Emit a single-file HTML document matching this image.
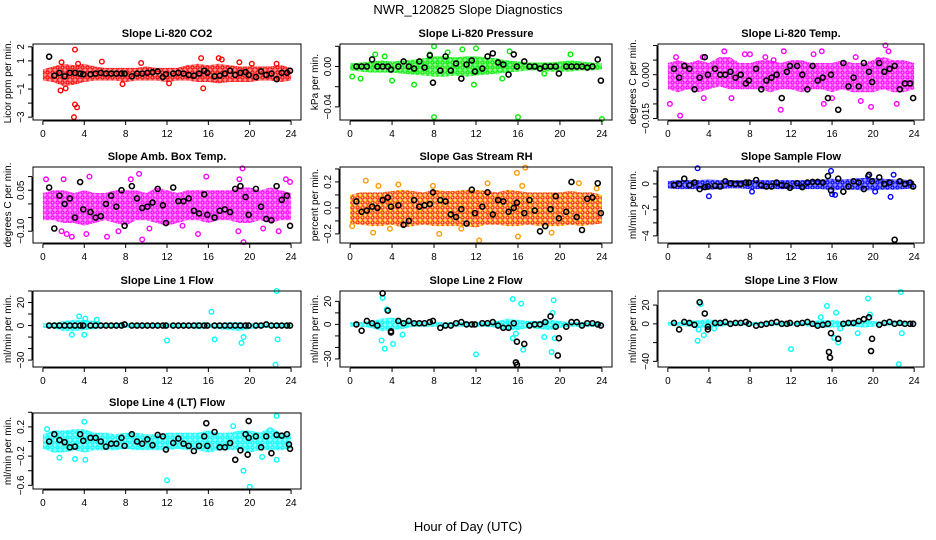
<!DOCTYPE html>
<html><head><meta charset="utf-8"><style>
html,body{margin:0;padding:0;background:#fff;}
svg{display:block;font-family:"Liberation Sans",sans-serif;}
</style></head><body>
<svg id="chart" width="936" height="540" viewBox="0 0 936 540">
<defs id="defs"></defs>
<text x="468" y="14" text-anchor="middle" font-size="13">NWR_120825  Slope Diagnostics</text>
<text x="468" y="531" text-anchor="middle" font-size="13">Hour of Day (UTC)</text>
</svg>
<script>
const blackHours=[0.6,1.1,1.6,2.1,2.6,3.1,3.6,3.9,4.6,5.1,5.6,6.1,6.6,7.1,7.6,7.9,8.6,9.1,9.6,10.1,10.6,11.1,11.6,11.9,12.6,13.1,13.6,14.1,14.6,15.1,15.6,15.9,16.6,17.1,17.6,18.1,18.6,19.1,19.6,19.9,20.6,21.1,21.6,22.1,22.6,23.1,23.6,23.9];
const xTicks=[0,4,8,12,16,20,24];
const titles=["Slope Li-820 CO2","Slope Li-820 Pressure","Slope Li-820 Temp.","Slope Amb. Box Temp.","Slope Gas Stream RH","Slope Sample Flow","Slope Line 1 Flow","Slope Line 2 Flow","Slope Line 3 Flow","Slope Line 4 (LT) Flow"];
const yLabels=["Licor ppm per min.","kPa per min.","degrees C per min.","degrees C per min.","percent per min.","ml/min per min.","ml/min per min.","ml/min per min.","ml/min per min.","ml/min per min."];
const colors=["#ff0000","#00ee00","#ff00ff","#ff00ff","#ff9900","#0000ff","#00ffff","#00ffff","#00ffff","#00ffff"];
const yDomains=[[-3.2,2.2],[-0.053,0.0223],[-0.0155,0.0105],[-0.143,0.135],[-0.27,0.315],[-4.55,1.3],[-36,30],[-37,29],[-46,35],[-0.65,0.39]];
const yTicks=[[-3,-2,-1,0,1,2],[0.02,0,-0.02,-0.04],[0.01,0.005,0,-0.005,-0.01,-0.015],[0.1,0.05,0,-0.05,-0.1],[0.3,0.2,0.1,0,-0.1,-0.2],[1,0,-1,-2,-3,-4],[30,20,10,0,-10,-20,-30],[20,10,0,-10,-20,-30],[20,0,-20,-40],[0.4,0.2,0,-0.2,-0.4,-0.6]];
const yTickLabelVals=[[-3,-1,1,2],[0,-0.04],[0,-0.015],[0.05,-0.1],[0.2,0,-0.2],[0,-2,-4],[20,0,-30],[20,0,-30],[20,0,-40],[0.2,-0.2,-0.6]];
const yTickLabelText=[["−3","−1","1","2"],["0.00","−0.04"],["0.000","−0.015"],["0.05","−0.10"],["0.2","0.0","−0.2"],["0","−2","−4"],["20","0","−30"],["20","0","−30"],["20","0","−40"],["0.2","−0.2","−0.6"]];
const bandHi=[
[0.4,0.6,0.8,0.7,0.8,0.6,0.5,0.5,0.5,0.5,0.6,0.5,0.5,0.5,0.7,0.8,0.7,0.8,0.7,0.6,0.6,0.6,0.6,0.7,0.5],
[0.003,0.004,0.005,0.006,0.005,0.006,0.007,0.008,0.01,0.01,0.009,0.01,0.01,0.009,0.008,0.006,0.005,0.004,0.004,0.004,0.005,0.006,0.005,0.004,0.003],
[0.004,0.005,0.004,0.005,0.004,0.006,0.006,0.004,0.004,0.005,0.005,0.004,0.005,0.005,0.004,0.004,0.004,0.005,0.004,0.004,0.005,0.006,0.005,0.005,0.004],
[0.04,0.05,0.05,0.04,0.05,0.04,0.04,0.05,0.05,0.05,0.04,0.06,0.05,0.04,0.05,0.05,0.05,0.05,0.05,0.06,0.06,0.05,0.06,0.05,0.04],
[0.1,0.12,0.12,0.12,0.13,0.14,0.13,0.12,0.14,0.13,0.13,0.14,0.14,0.13,0.12,0.14,0.13,0.12,0.12,0.12,0.12,0.13,0.12,0.12,0.1],
[0.2,0.3,0.3,0.3,0.35,0.3,0.3,0.3,0.3,0.3,0.3,0.3,0.3,0.3,0.3,0.35,0.4,0.35,0.4,0.45,0.45,0.4,0.35,0.35,0.2],
[2,2,4,5,5,4,2,2,2,2,2,2,2,2,2,3,2,2,3,3,2,2,2,2,2],
[2,2,3,5,6,4,3,2,2,2,2,2,2,2,3,5,4,3,3,4,3,2,2,2,2],
[2,2,3,4,5,3,2,2,2,2,2,2,2,2,3,4,4,3,3,4,3,2,3,2,2],
[0.1,0.15,0.15,0.17,0.17,0.12,0.12,0.1,0.12,0.12,0.1,0.1,0.12,0.12,0.12,0.12,0.15,0.12,0.12,0.15,0.15,0.12,0.2,0.12,0.1]];
const bandLo=[
[-0.4,-0.5,-0.8,-0.7,-0.5,-0.4,-0.4,-0.4,-0.5,-0.4,-0.4,-0.4,-0.5,-0.4,-0.4,-0.5,-0.5,-0.6,-0.5,-0.5,-0.5,-0.4,-0.4,-0.5,-0.4],
[-0.004,-0.005,-0.006,-0.006,-0.006,-0.007,-0.008,-0.009,-0.01,-0.01,-0.009,-0.01,-0.009,-0.008,-0.007,-0.006,-0.005,-0.004,-0.004,-0.005,-0.005,-0.005,-0.004,-0.004,-0.003],
[-0.005,-0.006,-0.005,-0.006,-0.005,-0.004,-0.005,-0.005,-0.005,-0.005,-0.006,-0.005,-0.005,-0.006,-0.005,-0.005,-0.006,-0.005,-0.006,-0.006,-0.006,-0.005,-0.006,-0.006,-0.005],
[-0.06,-0.06,-0.07,-0.07,-0.08,-0.07,-0.06,-0.07,-0.08,-0.06,-0.06,-0.07,-0.08,-0.07,-0.06,-0.06,-0.07,-0.06,-0.06,-0.07,-0.07,-0.06,-0.07,-0.06,-0.06],
[-0.12,-0.13,-0.14,-0.14,-0.13,-0.15,-0.14,-0.13,-0.14,-0.14,-0.14,-0.14,-0.15,-0.13,-0.13,-0.14,-0.14,-0.13,-0.14,-0.14,-0.14,-0.13,-0.14,-0.13,-0.12],
[-0.35,-0.4,-0.4,-0.4,-0.45,-0.4,-0.35,-0.35,-0.4,-0.4,-0.4,-0.4,-0.4,-0.4,-0.4,-0.4,-0.5,-0.45,-0.45,-0.5,-0.5,-0.45,-0.45,-0.4,-0.35],
[-2,-2,-5,-5,-4,-3,-2,-2,-2,-2,-2,-2,-2,-2,-2,-3,-2,-3,-4,-5,-3,-2,-2,-2,-2],
[-2,-2,-3,-6,-5,-4,-2,-2,-2,-2,-2,-2,-2,-2,-3,-5,-5,-3,-4,-5,-3,-2,-2,-2,-2],
[-2,-2,-3,-4,-4,-3,-2,-2,-2,-2,-2,-2,-2,-2,-3,-4,-4,-3,-3,-4,-3,-2,-2,-2,-2],
[-0.1,-0.15,-0.15,-0.12,-0.15,-0.12,-0.12,-0.12,-0.1,-0.12,-0.12,-0.12,-0.12,-0.1,-0.12,-0.12,-0.15,-0.12,-0.12,-0.12,-0.15,-0.12,-0.12,-0.12,-0.1]];
const outliers=[
[[3.1,1.8],[3.0,-3.0],[3.1,-2.1],[3.3,-2.3],[1.7,-1.1],[2.2,-0.95],[3.4,0.8],[15.3,1.2],[15.5,-0.95],[17,1.2],[17.3,1.1],[19,0.9],[12.2,-0.6],[7.7,-0.65],[22.6,0.8],[5.7,0.95],[9.5,0.85],[1.8,0.9],[20.2,0.8]],
[[8,0.02],[12,0.018],[8,-0.05],[16,-0.05],[24,-0.052],[11.8,-0.018],[6.1,-0.018],[4,-0.014],[0.2,-0.01],[1,-0.012],[9.3,0.014],[10.7,0.017],[15.2,0.015],[14.5,-0.012],[7.6,0.012],[18.5,-0.007],[21,0.012],[2.4,0.012],[3.3,0.01]],
[[1.2,-0.014],[11,-0.012],[21.2,0.01],[0.2,-0.01],[3.5,-0.008],[5.5,0.008],[7.5,0.007],[8,0.007],[9.5,0.006],[11.3,0.008],[15,0.008],[19.8,-0.011],[22.3,-0.01],[16,-0.008],[6.2,-0.008],[14.2,0.007],[18.3,0.006],[21.5,0.008],[0.8,0.006],[3.4,0.006],[15.2,-0.01],[18.8,-0.009],[20.5,0.005],[10.3,0.005]],
[[0.3,0.09],[2.0,0.09],[4.5,0.1],[8.5,0.09],[9.3,0.11],[15.8,0.1],[19.3,0.13],[19.0,0.09],[23.5,0.09],[23.9,0.08],[1.8,-0.1],[2.3,-0.11],[2.8,-0.12],[6.2,-0.12],[7.3,-0.1],[9.6,-0.13],[15,-0.11],[18.9,-0.1],[19.4,-0.14],[22.8,-0.1],[21.3,-0.09],[4.2,-0.11],[10.3,-0.09],[13.5,-0.08]],
[[1.5,0.21],[2.7,0.17],[4.6,0.18],[7.9,0.17],[13.1,0.19],[15.9,0.27],[16.7,0.31],[16.4,0.17],[21.8,0.19],[23.5,0.15],[2.2,-0.19],[3.8,-0.16],[8.5,-0.2],[12.3,-0.25],[16,-0.22],[19.2,-0.19],[0.2,-0.14],[10.6,-0.16]],
[[2.9,1.2],[4.0,-0.95],[16,-0.8],[16.3,-0.85],[21.7,-1.0],[22,0.7],[20.2,-0.6],[8.2,-0.6],[15.9,1.0],[19.5,0.6]],
[[22.6,30],[22.5,-34],[22.7,-12],[16.3,12],[16.6,-12],[12,-13],[19.2,-15],[19.4,-10],[4.0,-8],[2.8,-8],[3.5,8],[4.1,6],[5.2,5]],
[[3.1,23],[3.3,-21],[3.0,-14],[3.5,13],[4.1,-17],[5,-9],[12,-26],[15.5,22],[16.3,18],[16.5,-22],[15.5,-12],[19.4,21],[19.3,10],[19.2,-24],[18.5,-11],[19.5,-12],[15.8,-8]],
[[3.2,21],[3.5,-12],[2.9,-18],[3.0,-6],[4.5,-5],[12,-27],[15.5,19],[16.4,12],[16.2,-15],[16.6,-20],[16.8,-5],[18.5,-10],[19.5,27],[19.7,10],[22.7,34],[22.5,-43],[22.8,-10],[14.9,7]],
[[12,-0.53],[19.4,-0.4],[20,-0.62],[22.6,0.35],[22.6,-0.25],[4,0.27],[3.1,-0.24],[1.6,-0.22],[21.2,-0.21],[18.4,0.21],[4.1,-0.25],[0.4,0.17]]];
const blackVals=[
[1.3,-0.05,0.15,-0.1,0.15,0.15,0.1,0.05,0.05,0.1,0.15,0.1,0.1,0.1,0.1,0.1,-0.1,0.1,0.1,0.15,0.2,0.25,-0.15,0.05,0.1,0.15,0.1,0,-0.05,0.1,0.3,0.15,-0.1,-0.05,0.1,0.3,0.0,0.15,0.2,0.0,-0.15,0.25,0.0,0.1,-0.3,0.15,0.15,0.3],
[0,0,0,0.007,0,0,0,-0.003,0,0.005,0,-0.002,0.005,-0.001,0.011,-0.016,-0.004,0.01,-0.004,0.003,-0.012,0.002,0.006,-0.005,-0.002,0.01,0.013,0.004,0.002,-0.008,0.012,0,0.005,0,0,-0.002,0,0,0,-0.007,0,0,0,0,-0.001,0,0.007,-0.014],
[0.002,-0.001,0.003,0.002,-0.005,-0.001,0.006,0,0.002,0,0,0.001,-0.001,0,-0.003,-0.002,0.002,-0.005,-0.002,-0.001,0,-0.008,0.001,0.003,0.003,0,-0.005,0.003,-0.002,-0.001,-0.008,0,-0.012,0.004,-0.004,-0.001,-0.004,0.004,0.001,-0.0025,0.004,0.001,0.002,0.003,-0.005,-0.003,-0.003,-0.008],
[0.06,-0.09,0.03,0.0,0.02,-0.05,0.08,-0.02,-0.03,-0.05,-0.045,0.0,0.03,-0.01,0.05,-0.08,0.065,0.02,-0.015,-0.01,0.005,0.055,-0.005,-0.07,0.06,0.01,0.01,0.02,-0.025,-0.035,0.035,-0.04,-0.05,-0.025,-0.02,-0.03,0.055,0.065,0.025,-0.04,0.055,-0.01,-0.055,-0.06,0.065,0.015,0.03,-0.08],
[0.05,-0.03,-0.02,0.01,0.0,0.06,0.08,0.01,0.02,-0.13,-0.1,0.06,0.01,0.02,0.03,0.12,0.06,0.05,-0.05,-0.07,-0.01,-0.12,0.14,-0.04,0.01,0.12,-0.05,0.06,0.05,-0.03,0.0,0.04,-0.04,0.06,-0.02,-0.18,-0.14,-0.01,0.09,-0.08,-0.03,0.2,-0.07,-0.17,0.07,0.08,0.19,-0.04],
[-0.1,0.0,0.4,-0.1,0.1,-0.4,-0.25,-0.2,-0.15,-0.2,0.2,0.05,0.0,0.0,0.1,0.1,0.3,-0.1,-0.2,-0.2,0.1,-0.1,-0.15,-0.3,0.05,-0.25,0.1,0.15,0.15,0.1,0.6,-0.5,0.4,-0.6,-0.2,0.2,0.1,-0.4,0.7,0.2,0.5,0.0,0.1,-4.3,0.2,0.0,0.1,-0.2],
[0,0,0,0,0,0,0,0,0,0,0,0,0,0,0,1,0,0,0,0,0,0,0,0,0,0,0,0,0,0,0,0,0,0,0,0,0,0,0,0,0,0,1,0,0,0,0,0],
[0,-5.5,3,1,-1,27,12,-6,3,1,3,1,1,1,2,3,-3,-1,-1,1,2,0,0,0,1,1,2,-1,-3,-3,1,-15,-17,-1,0,0,2,7,-2,-12,-2,2,2,-1,1,1,0,-1],
[1,-6,2,1,-1,23,11,-6,1,1,2,0,1,1,2,0,-2,-1,0,1,2,0,0,1,0,1,2,0,-2,-1,0,-10,-16,0,1,1,3,5,7,-16,-1,1,2,0,1,0,0,0],
[0,0.1,0.02,-0.01,-0.08,-0.07,0.1,0.01,0.05,0.05,0.0,-0.07,-0.03,-0.03,0.05,-0.06,0.1,0,-0.03,0.03,-0.05,0.09,0.07,-0.11,-0.02,0.04,-0.03,-0.06,-0.13,-0.06,0.07,-0.06,0.13,-0.08,-0.08,-0.02,-0.25,-0.12,0.1,0.05,0.07,-0.08,0.07,-0.16,0.09,0.08,0.1,-0.1]];
const blackExtra=[[],[],[],[],[],[],[],[[15.8,-33],[19.8,-27],[3.9,-7],[15.9,-35]],[[15.7,-30],[15.8,-36],[19.8,-29],[3.9,-3]],[[15.8,0.25],[19.9,0.28],[19.8,-0.18],[23.8,-0.04]]];

const NS="http://www.w3.org/2000/svg";
const svg=document.getElementById('chart');
const defs=document.getElementById('defs');
const colBox=[[33,301],[340,612],[658,924]];
const rowTop=[44,167,291,413];
const boxH=76;
function mk(tag,attrs,parent){const e=document.createElementNS(NS,tag);for(const k in attrs)e.setAttribute(k,attrs[k]);parent.appendChild(e);return e;}
function slug(s){return s.toLowerCase().replace(/[^a-z0-9]+/g,'-').replace(/^-|-$/g,'');}

titles.forEach((t,p)=>{
  const col=p%3,row=Math.floor(p/3);
  const L=colBox[col][0],R=colBox[col][1],T=rowTop[row],B=T+boxH;
  const xs=h=>L+(h+0.96)/25.92*(R-L);
  const [y0,y1]=yDomains[p];
  const ys=v=>B-(v-y0)/(y1-y0)*boxH;
  const col0=colors[p];
  const pat=mk('pattern',{id:'pat'+p,width:5,height:5,patternUnits:'userSpaceOnUse'},defs);
  mk('rect',{x:0,y:0,width:5,height:5,fill:col0,'fill-opacity':0.45},pat);
  mk('circle',{cx:2.5,cy:2.5,r:1.6,fill:'none',stroke:(p===4?'#ff2000':col0),'stroke-width':1.2},pat);
  if(p===4) mk('rect',{x:0,y:0,width:1.5,height:1.5,fill:'#ffff00'},pat);
  const g=mk('g',{},svg);
  
  
  const tt=mk('text',{x:(L+R)/2,y:T-7,'text-anchor':'middle','font-size':11,'font-weight':'bold'},g);
  tt.textContent=t;
  
  
  const clip=mk('g',{},g);
  
  
  let pts=[];
  bandHi[p].forEach((v,i)=>pts.push(xs(i)+','+ys(v)));
  for(let i=bandLo[p].length-1;i>=0;i--)pts.push(xs(i)+','+ys(bandLo[p][i]));
  const band=mk('polygon',{points:pts.join(' '),fill:'url(#pat'+p+')',stroke:'none'},clip);
  
  
  outliers[p].forEach(o=>{const c=mk('circle',{cx:xs(o[0]),cy:ys(o[1]),r:2.3,fill:'none',stroke:col0,'stroke-width':1.4},clip);});
  blackVals[p].forEach((v,i)=>{const c=mk('circle',{cx:xs(blackHours[i]),cy:ys(v),r:2.5,fill:'none',stroke:'#000','stroke-width':1.6},clip);});
  blackExtra[p].forEach(o=>{const c=mk('circle',{cx:xs(o[0]),cy:ys(o[1]),r:2.5,fill:'none',stroke:'#000','stroke-width':1.6},clip);});
  const box=mk('rect',{x:L,y:T,width:R-L,height:boxH,fill:'none',stroke:'#000','stroke-width':1},g);
  
  
  const xa=mk('g',{},g);
  
  
  mk('line',{x1:xs(0),x2:xs(24),y1:B+1,y2:B+1,stroke:'#000'},xa);
  xTicks.forEach(h=>{
    mk('line',{x1:xs(h),x2:xs(h),y1:B+1,y2:B+5,stroke:'#000'},xa);
    const tx=mk('text',{x:xs(h),y:B+17,'text-anchor':'middle','font-size':10},xa);
    tx.textContent=h;
    
    
  });
  const ya=mk('g',{},g);
  
  
  const tk=yTicks[p];
  mk('line',{x1:L-1,x2:L-1,y1:ys(Math.max(...tk)),y2:ys(Math.min(...tk)),stroke:'#000'},ya);
  tk.forEach(v=>mk('line',{x1:L-5,x2:L-1,y1:ys(v),y2:ys(v),stroke:'#000'},ya));
  yTickLabelVals[p].forEach((v,i)=>{
    const tx=mk('text',{x:0,y:0,'text-anchor':'middle','font-size':10,transform:`translate(${L-9},${ys(v)}) rotate(-90)`},ya);
    tx.textContent=yTickLabelText[p][i];
    
    
  });
  const yl=mk('text',{x:0,y:0,'text-anchor':'middle','font-size':10,transform:`translate(${L-22},${(T+B)/2}) rotate(-90)`},g);
  yl.textContent=yLabels[p];
  
  
});
</script>
</body></html>
